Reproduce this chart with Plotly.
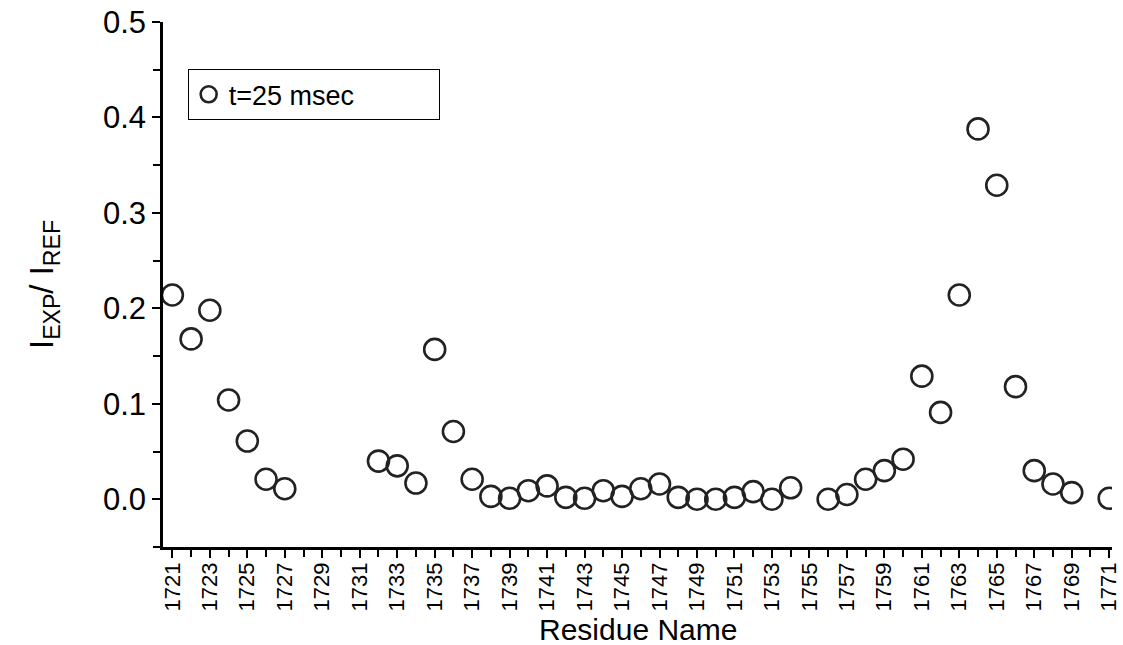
import plotly.graph_objects as go

residues = [1721, 1722, 1723, 1724, 1725, 1726, 1727,
            1732, 1733, 1734, 1735, 1736, 1737, 1738, 1739, 1740,
            1741, 1742, 1743, 1744, 1745, 1746, 1747, 1748, 1749, 1750,
            1751, 1752, 1753, 1754, 1756, 1757, 1758, 1759, 1760,
            1761, 1762, 1763, 1764, 1765, 1766, 1767, 1768, 1769, 1771]
ratio = [0.214, 0.168, 0.198, 0.104, 0.061, 0.021, 0.011,
         0.040, 0.035, 0.017, 0.157, 0.071, 0.021, 0.003, 0.001, 0.009,
         0.014, 0.002, 0.001, 0.009, 0.003, 0.011, 0.016, 0.002, 0.000, 0.000,
         0.002, 0.008, 0.000, 0.012, 0.000, 0.005, 0.021, 0.030, 0.042,
         0.129, 0.091, 0.214, 0.388, 0.329, 0.118, 0.030, 0.016, 0.007, 0.001]
series_name = "t=25 msec"
x_title = "Residue Name"
y_title = "I<sub>EXP</sub>/ I<sub>REF</sub>"
y_ticks = [0.0, 0.1, 0.2, 0.3, 0.4, 0.5]
y_tick_labels = ["0.0", "0.1", "0.2", "0.3", "0.4", "0.5"]
x_ticks = list(range(1721, 1772, 2))
x_tick_labels = [str(v) for v in x_ticks]

fig = go.Figure()
fig.add_trace(go.Scatter(
    x=residues, y=ratio, mode="markers", name=series_name,
    marker=dict(symbol="circle-open", size=21, color="#222222",
                line=dict(width=2.6, color="#222222")),
))

fig.add_annotation(text=x_title, xref="paper", yref="paper", x=0.5, y=0,
                   xanchor="center", yanchor="middle", yshift=-82,
                   showarrow=False, font=dict(size=30))

fig.update_layout(
    width=1123, height=645,
    margin=dict(l=163, r=11, t=22, b=98),
    paper_bgcolor="white", plot_bgcolor="white",
    font=dict(family="Liberation Sans, Arial, sans-serif", color="black"),
    showlegend=True,
    legend=dict(x=0.026, y=0.91, xanchor="left", yanchor="top",
                bordercolor="black", borderwidth=1, bgcolor="white",
                font=dict(size=27), orientation="h", entrywidth=205,
                itemsizing="trace"),
    xaxis=dict(
        range=[1720.5, 1771.15], showgrid=False, zeroline=False,
        showline=True, linecolor="black", linewidth=2.5, automargin=False,
        tickmode="array", tickvals=x_ticks, ticktext=x_tick_labels,
        ticks="outside", ticklen=8, tickwidth=2, tickcolor="black",
        tickangle=-90, tickfont=dict(size=22), ticklabelstandoff=-4,
        minor=dict(dtick=1, tick0=1721, ticks="outside", ticklen=7,
                   tickwidth=2, tickcolor="black"),
    ),
    yaxis=dict(
        range=[-0.05, 0.5], showgrid=False, zeroline=False,
        showline=True, linecolor="black", linewidth=2.5, automargin=False,
        tickmode="array", tickvals=y_ticks, ticktext=y_tick_labels,
        ticks="outside", ticklen=8, tickwidth=2, tickcolor="black",
        tickfont=dict(size=31),
        minor=dict(dtick=0.05, tick0=0, ticks="outside", ticklen=7,
                   tickwidth=2, tickcolor="black"),
        title=dict(text=y_title, font=dict(size=33), standoff=40),
    ),
)

fig.write_html("out.html")
